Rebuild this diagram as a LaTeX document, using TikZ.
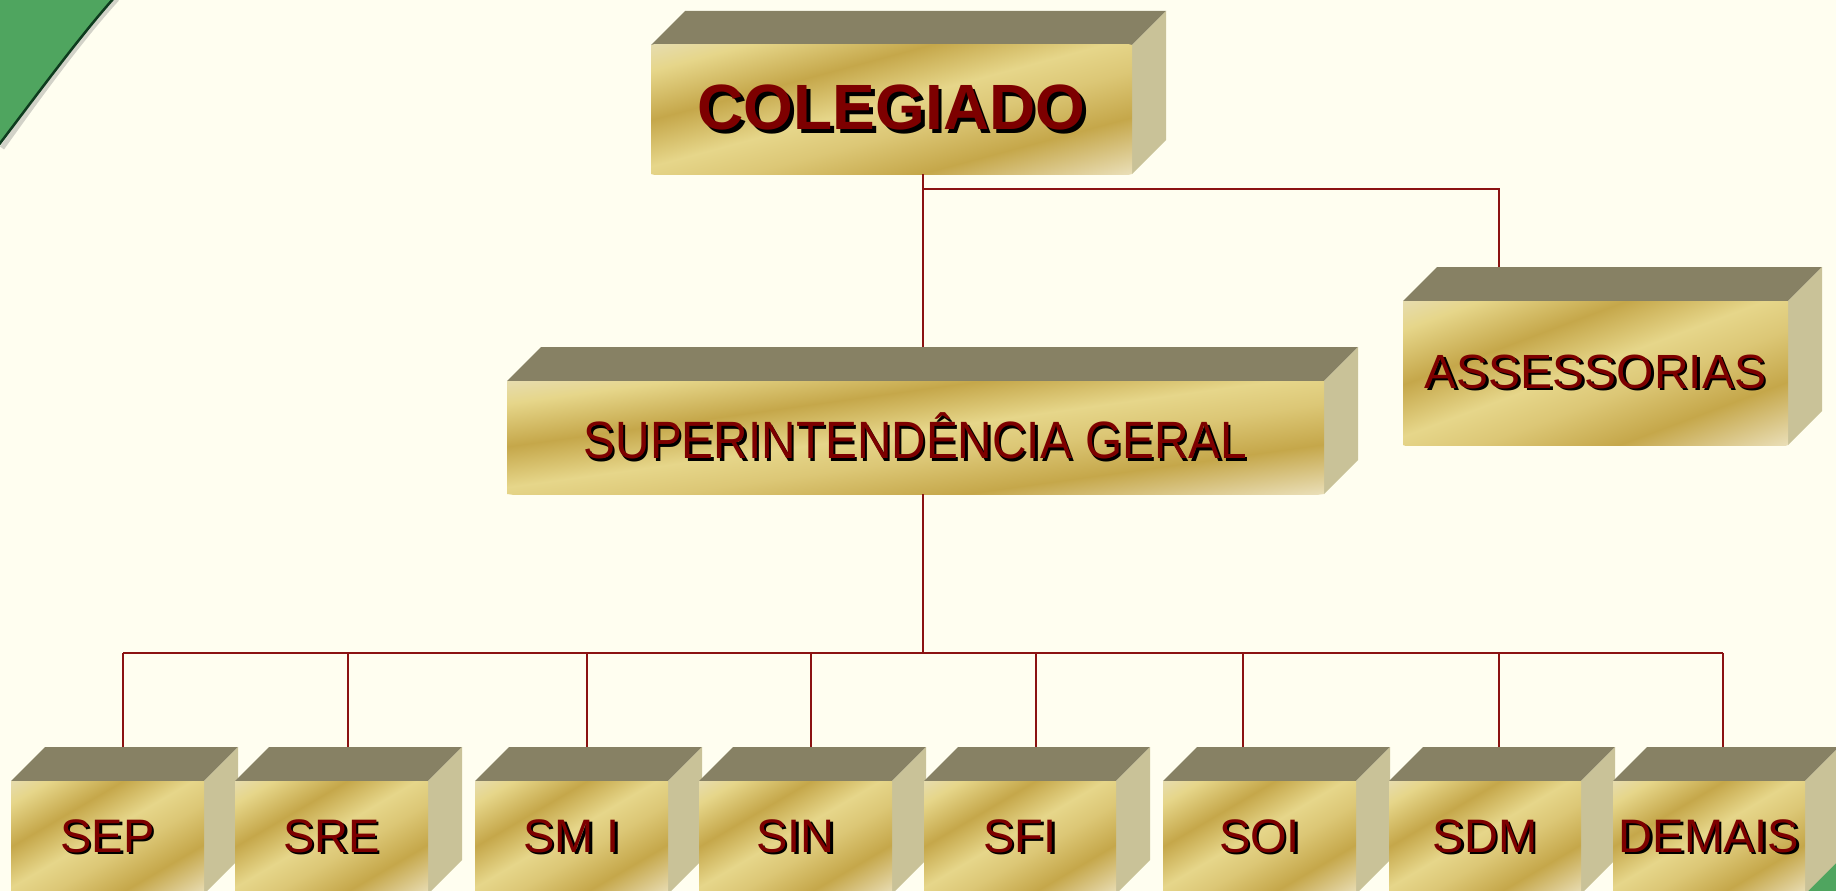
\documentclass[tikz,border=0pt]{standalone}
\usepackage{fontspec}
\setmainfont{Liberation Sans}
\usetikzlibrary{calc}
\definecolor{bgc}{HTML}{FFFEF0}
\definecolor{topc}{HTML}{878164}
\definecolor{sidec}{HTML}{C9C298}
\definecolor{goldL}{HTML}{E6D68A}
\definecolor{goldM}{HTML}{DCC776}
\definecolor{goldD}{HTML}{C5A74A}
\definecolor{goldC}{HTML}{E6DCAE}
\definecolor{goldE}{HTML}{EADFB8}
\definecolor{txtred}{HTML}{7D0000}
\definecolor{linec}{HTML}{8B1212}
\definecolor{greenc}{HTML}{4FA55F}
\definecolor{greenedge}{HTML}{0E3B1E}
\pgfdeclarehorizontalshading{goldh}{100bp}{color(0bp)=(goldC); color(25bp)=(goldC); color(30bp)=(goldL); color(39.5bp)=(goldD); color(48.5bp)=(goldL); color(55bp)=(goldM); color(64bp)=(goldD); color(75bp)=(goldE); color(100bp)=(goldE)}
\newcommand\shtext[2]{\makebox[0pt][l]{\raisebox{-#1}{\hspace{#1}\color{black}#2}}\textcolor{txtred}{#2}}
% #1 name, #2 x1, #3 y1 (top), #4 x2, #5 y2 (bottom), #6 font, #7 text
\newcommand\cube[7]{%
  \fill[topc] (#2,#3) -- ++(34,-34) -- (#4+34,#3-34) -- (#4,#3) -- cycle;
  \fill[sidec] (#4,#3) -- ++(34,-34) -- ++(0,#5-#3) -- (#4,#5) -- cycle;
  \pgfmathsetmacro\cubeW{#4-#2}%
  \pgfmathsetmacro\cubeH{#5-#3}%
  \pgfmathsetmacro\cubeNH{-(#5-#3)}%
  \pgfmathsetmacro\cubeTX{#2-0.5*\cubeW}%
  \pgfmathsetmacro\cubeTY{-#3-0.5*\cubeH}%
  \begin{scope}
    \clip (#2,#3) rectangle (#4,#5);
    \pgflowlevel{\pgftransformcm{\cubeW}{\cubeNH}{\cubeW}{\cubeH}{\pgfpoint{\cubeTX pt}{\cubeTY pt}}}
    \shade[shading=goldh] (0pt,0pt) rectangle (1pt,1pt);
  \end{scope}
  \node[front, anchor=north west, minimum width={#4pt-#2pt}, minimum height={#5pt-#3pt}, font=#6] (#1) at (#2,#3) {#7};
}
\tikzset{
  front/.style={inner sep=0pt, outer sep=0pt, draw=none},
  conn/.style={draw=linec, line width=2pt},
}
\begin{document}
\begin{tikzpicture}[x=1pt,y=-1pt]
\useasboundingbox (0,0) rectangle (1836,891);
\clip (0,0) rectangle (1836,891);
\fill[bgc] (0,0) rectangle (1836,891);
% green corner top-left
\draw[gray, opacity=0.35, line width=5pt] (117,-1) .. controls (83,36) and (39,96) .. (2,148);
\fill[greenc] (-2,-2) -- (114,-2) .. controls (80,36) and (36,96) .. (-2,146) -- cycle;
\draw[greenedge, line width=2.5pt] (114,-2) .. controls (80,36) and (36,96) .. (-2,146);
% green corner bottom-right
\fill[greenc] (1780,893) -- (1838,893) -- (1838,835) -- cycle;

% boxes
\cube{col}{651}{45}{1132}{174}{\fontsize{64}{70}\selectfont\bfseries}{\shtext{3.5pt}{COLEGIADO}}
\cube{ass}{1403}{301}{1788}{445}{\fontsize{48}{52}\selectfont}{\shtext{2.5pt}{ASSESSORIAS}}
\cube{sup}{507}{381}{1324}{494}{\fontsize{52.5}{56}\selectfont}{\scalebox{0.91}[1]{\shtext{2.5pt}{SUPERINTENDÊNCIA GERAL}}}
\cube{sep}{11}{781}{204}{894}{\fontsize{47}{50}\selectfont}{\shtext{2.5pt}{SEP}}
\cube{sre}{235}{781}{428}{894}{\fontsize{47}{50}\selectfont}{\shtext{2.5pt}{SRE}}
\cube{smi}{475}{781}{668}{894}{\fontsize{47}{50}\selectfont}{\shtext{2.5pt}{SM I}}
\cube{sin}{699}{781}{892}{894}{\fontsize{47}{50}\selectfont}{\shtext{2.5pt}{SIN}}
\cube{sfi}{924}{781}{1116}{894}{\fontsize{47}{50}\selectfont}{\shtext{2.5pt}{SFI}}
\cube{soi}{1163}{781}{1356}{894}{\fontsize{47}{50}\selectfont}{\shtext{2.5pt}{SOI}}
\cube{sdm}{1389}{781}{1581}{894}{\fontsize{47}{50}\selectfont}{\shtext{2.5pt}{SDM}}
\cube{dem}{1613}{781}{1805}{894}{\fontsize{47}{50}\selectfont}{\shtext{2.5pt}{DEMAIS}}

% connector attachment points (top edges of the top faces)
\coordinate (colbot) at (923,174);
\coordinate (supt) at (923,347);
\coordinate (asst) at (1499,267);
\coordinate (supbot) at (923,494);
\coordinate (branch) at (923,189);
\coordinate (bus) at (923,653);
\coordinate (sept) at (123,747);
\coordinate (sret) at (348,747);
\coordinate (smit) at (587,747);
\coordinate (sint) at (811,747);
\coordinate (sfit) at (1036,747);
\coordinate (soit) at (1243,747);
\coordinate (sdmt) at (1499,747);
\coordinate (demt) at (1723,747);

\draw[conn] (colbot) -- (supt);
\draw[conn] (branch) -| (asst);
\draw[conn] (supbot) -- (bus);
\draw[conn] (sept |- bus) -- (demt |- bus);
\foreach \t in {sept,sret,smit,sint,sfit,soit,sdmt,demt}{
  \draw[conn] (\t |- bus) -- (\t);
}
\end{tikzpicture}
\end{document}
